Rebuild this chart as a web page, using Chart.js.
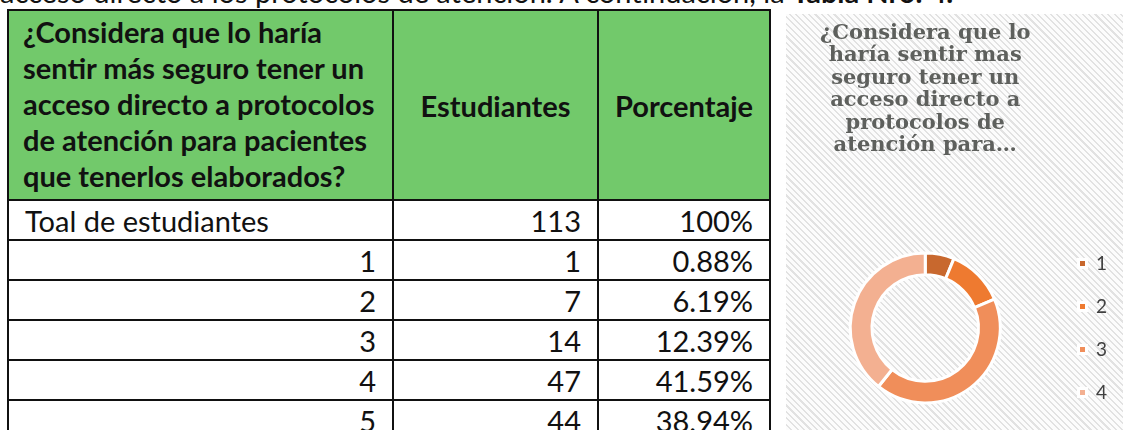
<!DOCTYPE html>
<html lang="es">
<head>
<meta charset="utf-8">
<script src="https://cdn.jsdelivr.net/npm/chart.js@4.4.1/dist/chart.umd.min.js"></script>
<style>
  html, body {
    margin: 0;
    padding: 0;
    width: 1123px;
    height: 430px;
    overflow: hidden;
    background: #fff;
    font-family: Lato, 'Liberation Sans', sans-serif;
    color: #111;
  }
  .lead {
    position: absolute;
    left: 0;
    top: -23px;
    font-size: 29px;
    line-height: 30px;
    white-space: nowrap;
  }
  .lead b { font-weight: 700; }
  table {
    position: absolute;
    left: 7px;
    top: 9px;
    border-collapse: collapse;
    table-layout: fixed;
    font-size: 29px;
  }
  td, th {
    border: 2px solid #111;
    padding: 0 16px;
    white-space: nowrap;
    line-height: 1;
  }
  th {
    background: #72c96b;
    font-weight: 700;
    height: 188px;
    text-align: center;
  }
  th.question {
    text-align: left;
    vertical-align: top;
    line-height: 36px;
    padding: 3px 0 0 14px;
    height: 185px;
  }
  td { height: 38px; text-align: right; }
  td.first-row { text-align: left; }
  .chart-box {
    position: absolute;
    left: 786px;
    top: 14px;
    width: 400px;
    height: 460px;
    background: repeating-linear-gradient(45deg, #fcfcfc 0 3px, #e2e2e2 3px 4.5px);
  }
  #chart { position: absolute; left: 0; top: 0; }
</style>
</head>
<body>
<div class="lead">acceso directo a los protocolos de atención. A continuación, la <b>Tabla Nro. 4.</b></div>

<table id="tbl">
  <colgroup>
    <col style="width:385px">
    <col style="width:205px">
    <col style="width:166px">
  </colgroup>
  <thead>
    <tr>
      <th class="question" id="question"></th>
      <th id="h-students"></th>
      <th id="h-percent"></th>
    </tr>
  </thead>
  <tbody id="tbody"></tbody>
</table>

<div class="chart-box">
  <canvas id="chart" width="331" height="446"></canvas>
</div>

<script>
// Table data
const questionLines = [
  '¿Considera que lo haría',
  'sentir más seguro tener un',
  'acceso directo a protocolos',
  'de atención para pacientes',
  'que tenerlos elaborados?'
];
const columnHeads = ['Estudiantes', 'Porcentaje'];
const rowLabels = ['Toal de estudiantes', '1', '2', '3', '4', '5'];
const studentCounts = [113, 1, 7, 14, 47, 44];
const percentLabels = ['100%', '0.88%', '6.19%', '12.39%', '41.59%', '38.94%'];

// Chart data (the chart in the document plots 4 slices)
const chartTitleLines = [
  '¿Considera que lo',
  'haría sentir mas',
  'seguro tener un',
  'acceso directo a',
  'protocolos de',
  'atención para…'
];
const sliceLabels = ['1', '2', '3', '4'];
const sliceValues = [7, 14, 47, 44];
const sliceColors = ['#c8682e', '#ee7a30', '#f08e5a', '#f3b091'];

document.getElementById('question').innerHTML = questionLines.join('<br>');
document.getElementById('h-students').textContent = columnHeads[0];
document.getElementById('h-percent').textContent = columnHeads[1];

const tbody = document.getElementById('tbody');
rowLabels.forEach((label, i) => {
  const tr = document.createElement('tr');
  tr.innerHTML = `
    <td class="${i === 0 ? 'first-row' : ''}">${label}</td>
    <td>${studentCounts[i]}</td>
    <td>${percentLabels[i]}</td>`;
  tbody.appendChild(tr);
});

const ctx = document.getElementById('chart').getContext('2d');
new Chart(ctx, {
  type: 'doughnut',
  data: {
    labels: sliceLabels,
    datasets: [{
      data: sliceValues,
      backgroundColor: sliceColors,
      borderColor: '#ffffff',
      borderWidth: 3,
      radius: 75,
      cutout: '71%'
    }]
  },
  options: {
    responsive: false,
    animation: false,
    layout: { padding: { left: 10, right: 0, top: 0, bottom: 22 } },
    plugins: {
      title: {
        display: true,
        fullSize: false,
        text: chartTitleLines,
        color: '#5e605d',
        font: { family: 'DejaVu Serif', size: 21, weight: 'bold', lineHeight: 1.07 },
        padding: { top: 8, bottom: 61 }
      },
      legend: {
        position: 'right',
        fullSize: false,
        labels: {
          boxWidth: 8,
          boxHeight: 8,
          padding: 24,
          color: '#404040',
          font: { family: 'Lato', size: 19 }
        }
      },
      tooltip: { enabled: false }
    }
  }
});
</script>
</body>
</html>
